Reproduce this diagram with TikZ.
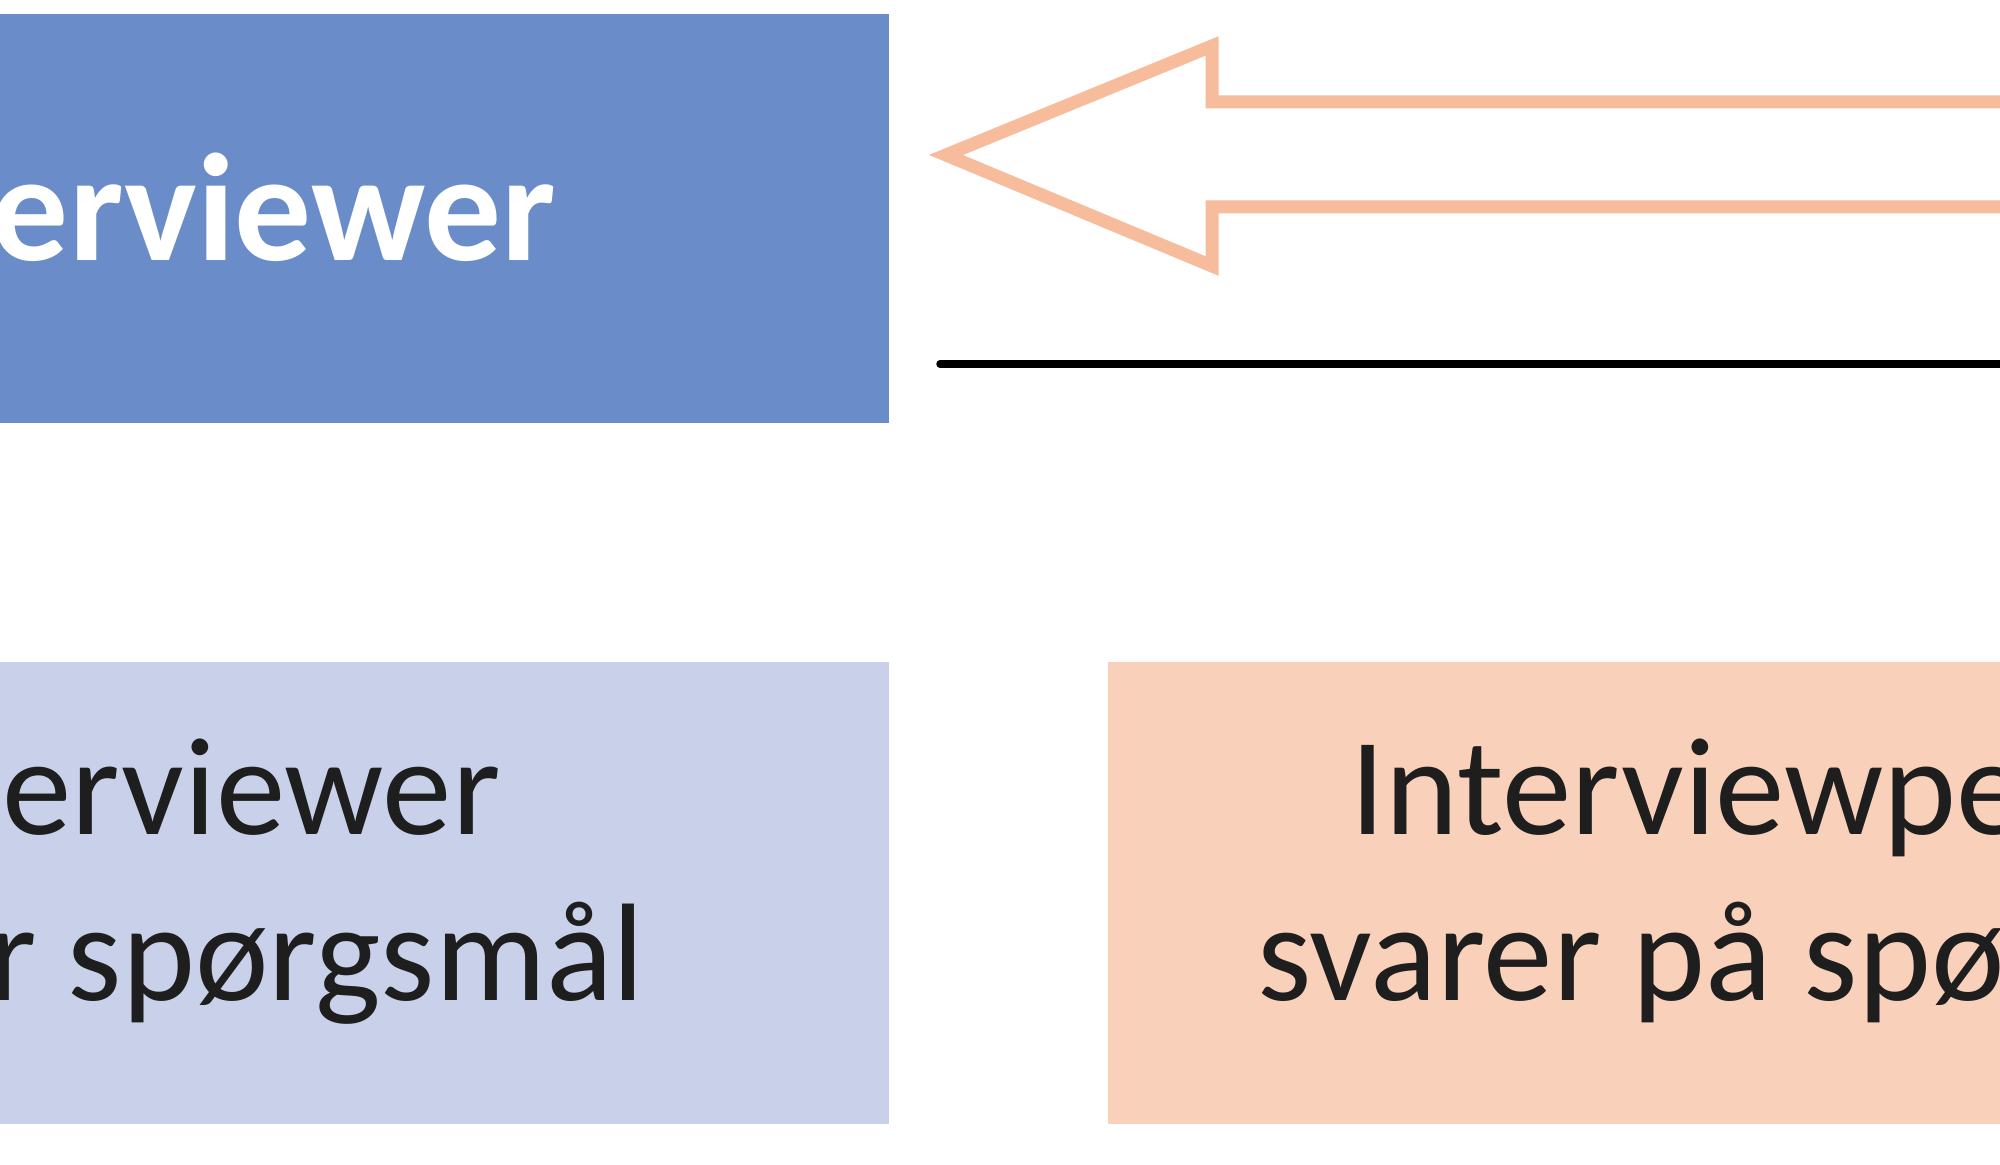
\documentclass[tikz,border=0pt]{standalone}
\usepackage{fontspec}
\setmainfont{Carlito}
\definecolor{hdrblue}{RGB}{106,140,201}
\definecolor{lightblue}{RGB}{201,209,234}
\definecolor{peach}{RGB}{249,209,187}
\definecolor{salmon}{RGB}{246,188,156}
\definecolor{ink}{RGB}{30,30,30}
\tikzset{
  box/.style={rectangle, inner sep=0pt, draw=none},
  hdrtext/.style={inner sep=0pt, text=white, font=\fontsize{43.6}{52}\selectfont\bfseries},
  bodytext/.style={inner sep=0pt, text=ink, font=\fontsize{39.5}{48}\selectfont},
  blockarrow/.style={draw=salmon, fill=white, line width=0.13cm, line join=miter, miter limit=10},
  rule/.style={draw=black, line width=0.075cm, line cap=round}
}
\begin{document}
\begin{tikzpicture}[x=0.01cm, y=-0.01cm]
\useasboundingbox (0,0) rectangle (2000,1165);
\clip (0,0) rectangle (2000,1165);
\fill[white] (0,0) rectangle (2000,1165);
% boxes
\node[box, fill=hdrblue, minimum width=14.9cm, minimum height=4.09cm, anchor=north east] (top) at (890,13) {};
\node[box, fill=lightblue, minimum width=14.9cm, minimum height=4.62cm, anchor=north east] (left) at (890,661) {};
\node[box, fill=peach, minimum width=14.9cm, minimum height=4.62cm, anchor=north west] (right) at (1107,661) {};
% texts
\node[hdrtext, anchor=base east] (toptext) at (557,261) {erviewer};
\node[bodytext, anchor=base east] (l1) at (501,835) {erviewer};
\node[bodytext, anchor=base east] (l2) at (645,1001) {r spørgsmål};
\node[bodytext, anchor=base west] (r1) at (1350,835) {Interviewpe};
\node[bodytext, anchor=base west] (r2) at (1257,1001) {svarer på spø};
% block arrow pointing left
\coordinate (tip) at (946,155);
\draw[blockarrow] (tip) -- (1212,46) -- (1212,102) -- (2030,102) -- (2030,207) -- (1212,207) -- (1212,266) -- cycle;
% black rule
\coordinate (rs) at (940,364);
\coordinate (re) at (2030,364);
\draw[rule] (rs) -- (re);
\end{tikzpicture}
\end{document}
